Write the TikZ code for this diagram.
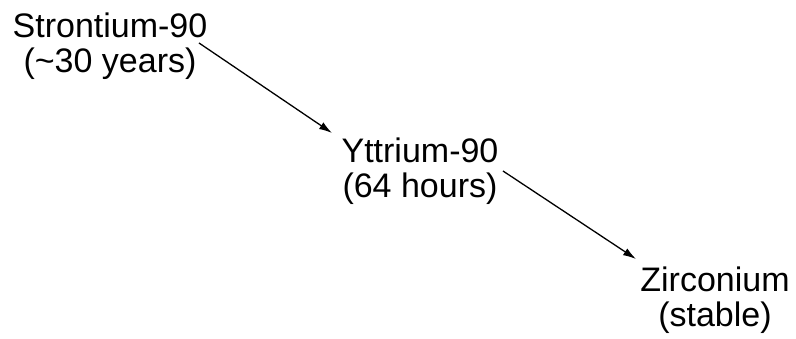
\documentclass[tikz,border=0pt]{standalone}
\usepackage{fontspec}
\setmainfont{Liberation Sans}
\usetikzlibrary{arrows.meta}
\begin{document}
\begin{tikzpicture}[x=1pt,y=1pt,
  iso/.style={inner sep=0pt, align=center, anchor=base, font=\fontsize{34}{35}\selectfont},
  decay/.style={line width=1.3pt, -{Latex[length=13pt,width=8pt]}}]
\useasboundingbox (0,0) rectangle (796,339);
\node[iso] (sr) at (110,266) {Strontium-90\\(\textasciitilde 30 years)};
\node[iso] (yt) at (420,141) {Yttrium-90\\(64 hours)};
\node[iso] (zr) at (715,12) {Zirconium\\(stable)};
\coordinate (a1s) at (199,296);
\coordinate (a1e) at (332,206);
\coordinate (a2s) at (503,168);
\coordinate (a2e) at (636,80);
\draw[decay] (a1s) -- (a1e);
\draw[decay] (a2s) -- (a2e);
\end{tikzpicture}
\end{document}
